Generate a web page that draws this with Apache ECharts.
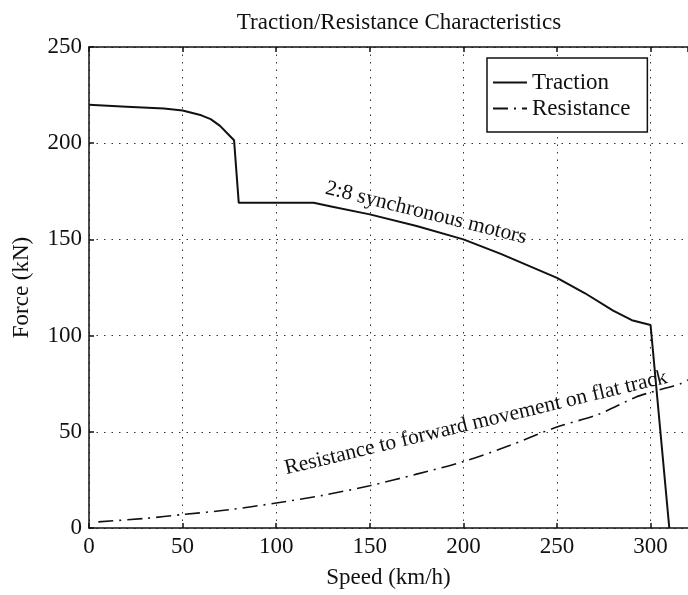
<!DOCTYPE html>
<html>
<head>
<meta charset="utf-8">
<script src="https://cdn.jsdelivr.net/npm/echarts@6/dist/echarts.min.js"></script>
<style>html,body{margin:0;padding:0;background:#fff;}#c{width:688px;height:595px;}</style>
</head>
<body>
<div id="c"></div>
<script>
const tractionSpeed = [0, 20, 40, 50, 60, 65, 70, 75, 77.5, 80, 120, 130, 150, 175, 200, 220, 250, 265, 280, 290, 300, 310];
const tractionForce = [220, 219, 218, 217, 214.5, 212.5, 209, 204, 201.5, 169, 169, 167, 163, 157, 150, 142.5, 130, 122, 113, 108, 105.5, 0];
const resistSpeed = [5, 30, 50, 75, 100, 125, 150, 175, 200, 225, 250, 272, 292, 300, 316, 320];
const resistForce = [3.2, 5, 7, 9.5, 13, 17, 22, 28, 34.5, 43, 52.5, 59, 68, 70.5, 75, 77];
const xTicks = [0, 50, 100, 150, 200, 250, 300];
const yTicks = [0, 50, 100, 150, 200, 250];
const titleText = 'Traction/Resistance Characteristics';
const seriesNames = ['Traction', 'Resistance'];
const annotation1 = '2:8 synchronous motors';
const annotation2 = 'Resistance to forward movement on flat track';

const FONT = 'Liberation Serif';
const pair = (xs, ys) => xs.map((x, i) => [x, ys[i]]);
const chart = echarts.init(document.getElementById('c'), null, {renderer: 'canvas'});
const axisCommon = {
  type: 'value',
  axisLine: {show: true, lineStyle: {color: '#111', width: 1.5}},
  axisTick: {show: true, inside: true, length: 5, lineStyle: {color: '#111', width: 1.5}},
};
chart.setOption({
  animation: false,
  backgroundColor: '#fff',
  title: {
    text: titleText, left: 394, top: 6, textAlign: 'center',
    textStyle: {fontFamily: FONT, fontSize: 23, fontWeight: 'normal', color: '#111'}
  },
  grid: {left: 89, top: 47, width: 610, height: 481},
  legend: {
    data: seriesNames, orient: 'vertical', left: 487, top: 58,
    backgroundColor: '#fff',
    borderColor: '#111', borderWidth: 1.5, borderRadius: 0,
    padding: [13, 17, 12, 5], itemGap: 3, itemWidth: 34, itemHeight: 14,
    itemStyle: {opacity: 0},
    textStyle: {fontFamily: FONT, fontSize: 23, color: '#111'}
  },
  xAxis: [
    Object.assign({}, axisCommon, {
      position: 'bottom', min: 0, max: 320, interval: 50,
      name: 'Speed (km/h)', nameLocation: 'middle', nameGap: 38,
      nameTextStyle: {fontFamily: FONT, fontSize: 23, color: '#111'},
      axisLabel: {fontFamily: FONT, fontSize: 23, color: '#111', margin: 7, showMaxLabel: false,
        formatter: v => xTicks.includes(v) ? String(v) : ''},
      splitLine: {show: true, lineStyle: {color: '#333', width: 1, type: [1.5, 6]}}
    }),
    Object.assign({}, axisCommon, {
      position: 'top', min: 0, max: 320, interval: 50,
      axisLabel: {show: false}, splitLine: {show: false}
    })
  ],
  yAxis: Object.assign({}, axisCommon, {
    min: 0, max: 250, interval: 50,
    name: 'Force (kN)', nameLocation: 'middle', nameGap: 56,
    nameTextStyle: {fontFamily: FONT, fontSize: 23, color: '#111'},
    axisLabel: {fontFamily: FONT, fontSize: 23, color: '#111', margin: 7,
      formatter: v => yTicks.includes(v) ? String(v) : ''},
    splitLine: {show: true, lineStyle: {color: '#333', width: 1, type: [1.5, 6]}}
  }),
  series: [
    {
      name: seriesNames[0], type: 'line', data: pair(tractionSpeed, tractionForce),
      symbol: 'none', lineStyle: {color: '#111', width: 2}, itemStyle: {color: '#111'}, z: 3
    },
    {
      name: seriesNames[1], type: 'line', data: pair(resistSpeed, resistForce), smooth: 0.3,
      symbol: 'none', lineStyle: {color: '#111', width: 1.6, type: [15, 6, 2, 6]}, itemStyle: {color: '#111'}, z: 3
    }
  ],
  graphic: [
    {type: 'text', x: 426, y: 213, rotation: -14 * Math.PI / 180, z: 10,
      style: {text: annotation1, fontFamily: FONT, fontSize: 21.5, fill: '#111', align: 'center', verticalAlign: 'middle'}},
    {type: 'text', x: 476, y: 423, rotation: 13.5 * Math.PI / 180, z: 10,
      style: {text: annotation2, fontFamily: FONT, fontSize: 21.5, fill: '#111', align: 'center', verticalAlign: 'middle'}}
  ]
});
</script>
</body>
</html>
